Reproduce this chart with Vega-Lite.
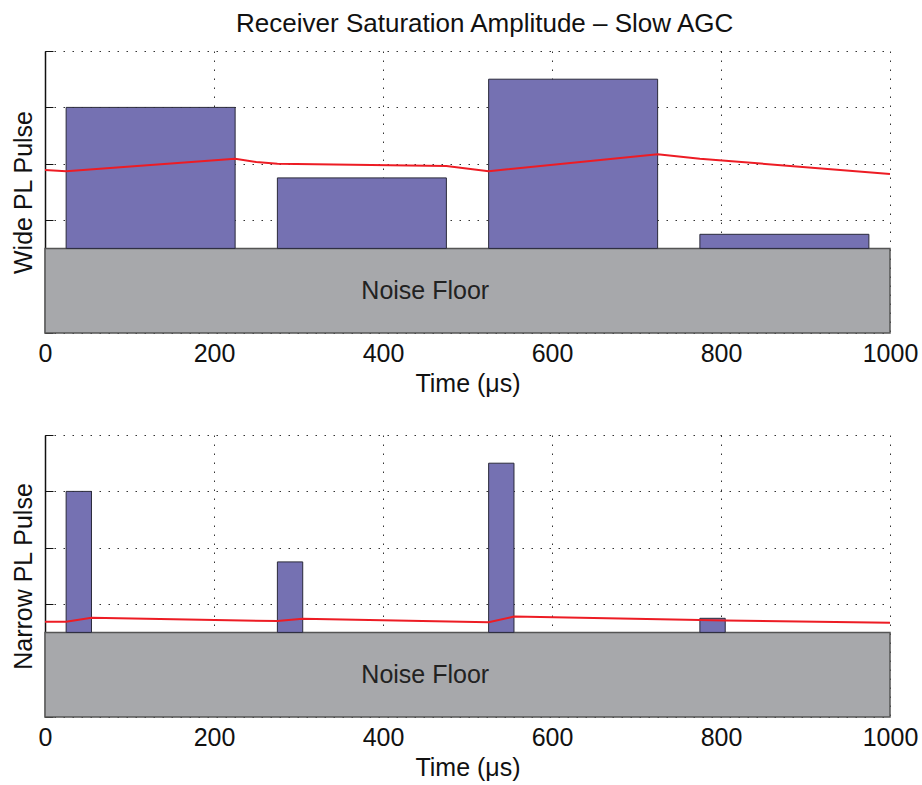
{
  "$schema": "https://vega.github.io/schema/vega-lite/v6.json",
  "padding": {"left": 11, "top": 10, "right": 4, "bottom": 4},
  "background": "white",
  "title": {"text": "Receiver Saturation Amplitude – Slow AGC", "fontSize": 26, "fontWeight": "normal", "color": "#111", "offset": 14, "anchor": "middle", "dx": 20},
  "config": {
    "font": "Liberation Sans",
    "view": {"stroke": null},
    "axis": {
      "gridColor": "#333", "gridDash": [1.5, 7.5], "gridWidth": 1, "gridOpacity": 1,
      "labelFontSize": 25, "titleFontSize": 25, "titleFontWeight": "normal",
      "labelColor": "#111", "titleColor": "#111", "labelFlush": false, "labelOverlap": false
    }
  },
  "datasets": {
    "floor": [{"x": 0, "x2": 1000, "y": 0, "y2": 1.5, "label": "Noise Floor", "lx": 450, "ly": 0.75}],
    "wideBars": [
      {"start": 25, "end": 225, "base": 1.5, "top": 4},
      {"start": 275, "end": 475, "base": 1.5, "top": 2.75},
      {"start": 525, "end": 725, "base": 1.5, "top": 4.5},
      {"start": 775, "end": 975, "base": 1.5, "top": 1.75}
    ],
    "narrowBars": [
      {"start": 25, "end": 55, "base": 1.5, "top": 4},
      {"start": 275, "end": 305, "base": 1.5, "top": 2.75},
      {"start": 525, "end": 555, "base": 1.5, "top": 4.5},
      {"start": 775, "end": 805, "base": 1.5, "top": 1.75}
    ],
    "wideLine": [
      {"t": 0, "v": 2.89}, {"t": 25, "v": 2.87}, {"t": 225, "v": 3.09}, {"t": 250, "v": 3.03},
      {"t": 275, "v": 3.0}, {"t": 475, "v": 2.96}, {"t": 525, "v": 2.87}, {"t": 725, "v": 3.17},
      {"t": 775, "v": 3.09}, {"t": 1000, "v": 2.82}
    ],
    "narrowLine": [
      {"t": 0, "v": 1.69}, {"t": 25, "v": 1.69}, {"t": 55, "v": 1.76}, {"t": 275, "v": 1.70},
      {"t": 305, "v": 1.74}, {"t": 525, "v": 1.68}, {"t": 555, "v": 1.78}, {"t": 775, "v": 1.72},
      {"t": 805, "v": 1.71}, {"t": 1000, "v": 1.67}
    ]
  },
  "spacing": 38,
  "vconcat": [
    {
      "width": 845, "height": 282,
      "layer": [
        {
          "data": {"name": "floor"},
          "mark": {"type": "rect", "fill": "#a7a8ab", "stroke": "#555", "strokeWidth": 1.5},
          "encoding": {
            "x": {"field": "x", "type": "quantitative", "scale": {"domain": [0, 1000], "nice": false},
                  "axis": {"values": [0, 200, 400, 600, 800, 1000], "format": "d", "title": "Time (μs)", "ticks": false, "domain": false, "labelPadding": 8, "titlePadding": 5}},
            "x2": {"field": "x2"},
            "y": {"field": "y", "type": "quantitative", "scale": {"domain": [0, 5], "nice": false},
                  "axis": {"values": [0, 1, 2, 3, 4, 5], "labels": false, "tickSize": -8, "tickColor": "#111", "domainColor": "#111", "domainWidth": 1.5, "title": "Wide PL Pulse", "titlePadding": 8}},
            "y2": {"field": "y2"}
          }
        },
        {
          "data": {"name": "wideBars"},
          "mark": {"type": "rect", "fill": "#7571b2", "stroke": "#2a2a3a", "strokeWidth": 1},
          "encoding": {
            "x": {"field": "start", "type": "quantitative"},
            "x2": {"field": "end"},
            "y": {"field": "base", "type": "quantitative"},
            "y2": {"field": "top"}
          }
        },
        {
          "data": {"name": "wideLine"},
          "mark": {"type": "line", "color": "#ed1c24", "strokeWidth": 2},
          "encoding": {
            "x": {"field": "t", "type": "quantitative"},
            "y": {"field": "v", "type": "quantitative"}
          }
        },
        {
          "data": {"name": "floor"},
          "mark": {"type": "text", "fontSize": 25, "color": "#222"},
          "encoding": {
            "x": {"field": "lx", "type": "quantitative"},
            "y": {"field": "ly", "type": "quantitative"},
            "text": {"field": "label"}
          }
        }
      ]
    },
    {
      "width": 845, "height": 282,
      "layer": [
        {
          "data": {"name": "floor"},
          "mark": {"type": "rect", "fill": "#a7a8ab", "stroke": "#555", "strokeWidth": 1.5},
          "encoding": {
            "x": {"field": "x", "type": "quantitative", "scale": {"domain": [0, 1000], "nice": false},
                  "axis": {"values": [0, 200, 400, 600, 800, 1000], "format": "d", "title": "Time (μs)", "ticks": false, "domain": false, "labelPadding": 8, "titlePadding": 5}},
            "x2": {"field": "x2"},
            "y": {"field": "y", "type": "quantitative", "scale": {"domain": [0, 5], "nice": false},
                  "axis": {"values": [0, 1, 2, 3, 4, 5], "labels": false, "tickSize": -8, "tickColor": "#111", "domainColor": "#111", "domainWidth": 1.5, "title": "Narrow PL Pulse", "titlePadding": 8}},
            "y2": {"field": "y2"}
          }
        },
        {
          "data": {"name": "narrowBars"},
          "mark": {"type": "rect", "fill": "#7571b2", "stroke": "#2a2a3a", "strokeWidth": 1},
          "encoding": {
            "x": {"field": "start", "type": "quantitative"},
            "x2": {"field": "end"},
            "y": {"field": "base", "type": "quantitative"},
            "y2": {"field": "top"}
          }
        },
        {
          "data": {"name": "narrowLine"},
          "mark": {"type": "line", "color": "#ed1c24", "strokeWidth": 2},
          "encoding": {
            "x": {"field": "t", "type": "quantitative"},
            "y": {"field": "v", "type": "quantitative"}
          }
        },
        {
          "data": {"name": "floor"},
          "mark": {"type": "text", "fontSize": 25, "color": "#222"},
          "encoding": {
            "x": {"field": "lx", "type": "quantitative"},
            "y": {"field": "ly", "type": "quantitative"},
            "text": {"field": "label"}
          }
        }
      ]
    }
  ]
}
